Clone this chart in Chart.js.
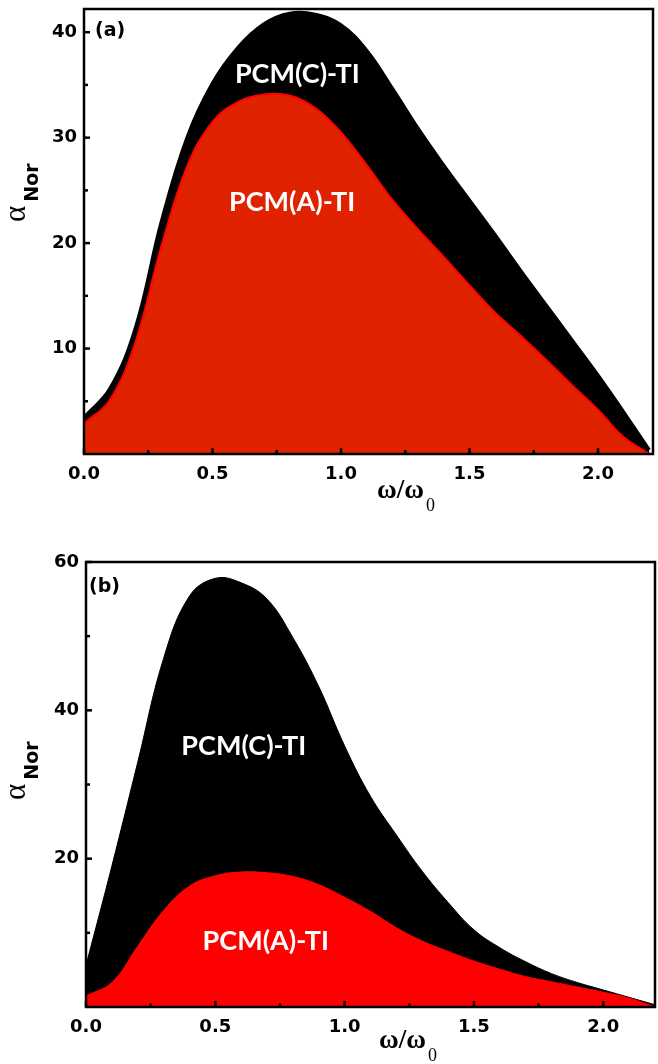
<!DOCTYPE html>
<html>
<head>
<meta charset="utf-8">
<script src="https://cdn.jsdelivr.net/npm/chart.js@4/dist/chart.umd.min.js"></script>
<style>
  body { margin: 0; background: #fff; }
  #wrapA { position: absolute; left: 0; top: 0; width: 658px; height: 520px; }
  #wrapB { position: absolute; left: 0; top: 520px; width: 658px; height: 544px; }
</style>
</head>
<body>
<div id="wrapA"><canvas id="chartA" width="658" height="520"></canvas></div>
<div id="wrapB"><canvas id="chartB" width="658" height="544"></canvas></div>
<script>
// --- omega / omega0 sample points (shared by all curves) ---
const omega = [0, 0.1, 0.2, 0.3, 0.4, 0.5, 0.6, 0.7, 0.8, 0.9, 1.0, 1.1,
               1.2, 1.3, 1.4, 1.5, 1.6, 1.7, 1.8, 1.9, 2.0, 2.1, 2.2];

// panel (a)
const alphaC_a = [3.5, 6.2, 12.0, 22.0, 30.0, 35.2, 38.6, 40.8, 41.8, 41.7, 40.7, 38.3,
                  34.7, 30.9, 27.4, 24.1, 20.8, 17.4, 14.1, 10.8, 7.5, 4.0, 0.4];
const alphaA_a = [2.9, 5.1, 10.6, 19.6, 27.2, 31.5, 33.4, 34.1, 34.0, 32.8, 30.5, 27.4,
                  24.1, 21.3, 18.7, 16.0, 13.4, 11.2, 8.9, 6.5, 4.2, 1.6, 0];

// panel (b)
const alphaC_b = [5.6, 19.0, 33.0, 47.0, 55.4, 57.8, 57.2, 55.0, 49.8, 43.2, 35.2, 28.4,
                  23.2, 18.3, 14.1, 10.4, 8.0, 6.1, 4.5, 3.3, 2.3, 1.3, 0.3];
const alphaA_b = [1.5, 3.3, 8.2, 13.0, 16.3, 17.7, 18.2, 18.1, 17.6, 16.5, 14.8, 12.9,
                  10.7, 8.9, 7.5, 6.2, 5.1, 4.1, 3.4, 2.7, 2.0, 1.2, 0];

// ticks
const xTicks = [0, 0.5, 1.0, 1.5, 2.0];
const xMinor = [0.25, 0.75, 1.25, 1.75];
const yTicks_a = [10, 20, 30, 40];
const yMinor_a = [5, 15, 25, 35];
const yTicks_b = [20, 40, 60];
const yMinor_b = [10, 30, 50];

function pts(ys) {
  return omega.map((x, i) => ({ x: x, y: ys[i] }));
}

// frame, inward ticks, titles and in-plot labels
const framePlugin = {
  id: 'frame',
  afterDraw(chart, args, o) {
    const ctx = chart.ctx;
    const a = chart.chartArea;
    const xs = chart.scales.x, ys = chart.scales.y;
    ctx.save();
    ctx.strokeStyle = '#000';
    ctx.lineWidth = 2.5;
    ctx.strokeRect(a.left, a.top, a.right - a.left, a.bottom - a.top);

    function tick(x1, y1, x2, y2) {
      ctx.beginPath(); ctx.moveTo(x1, y1); ctx.lineTo(x2, y2); ctx.stroke();
    }
    xTicks.forEach(v => { const p = xs.getPixelForValue(v); tick(p, a.bottom, p, a.bottom - 6); });
    xMinor.forEach(v => { const p = xs.getPixelForValue(v); tick(p, a.bottom, p, a.bottom - 4); });
    o.yMajor.forEach(v => { const p = ys.getPixelForValue(v); tick(a.left, p, a.left + 6, p); });
    o.yMinor.forEach(v => { const p = ys.getPixelForValue(v); tick(a.left, p, a.left + 4, p); });

    // labels inside the plot
    ctx.fillStyle = '#fff';
    ctx.font = 'bold 27px Lato';
    ctx.textAlign = 'center';
    ctx.textBaseline = 'middle';
    o.notes.forEach(n => {
      ctx.fillText(n.text, xs.getPixelForValue(n.x), ys.getPixelForValue(n.y));
    });

    // panel letter
    ctx.fillStyle = '#000';
    ctx.textAlign = 'left';
    ctx.font = 'bold 19px "DejaVu Sans"';
    ctx.fillText(o.panel, o.panelX, o.panelY);

    // x title  omega/omega_0
    ctx.textBaseline = 'alphabetic';
    ctx.font = 'bold 27px "Liberation Serif"';
    ctx.fillText('\u03c9/\u03c9', o.xtX, o.xtY);
    const w = ctx.measureText('\u03c9/\u03c9').width;
    ctx.font = '18px "Liberation Serif"';
    ctx.fillText('0', o.xtX + w + 2, o.xtY + 13);

    // y title alpha_Nor
    ctx.translate(o.ytX, o.ytY);
    ctx.rotate(-Math.PI / 2);
    ctx.font = '31px "Liberation Serif"';
    ctx.fillText('\u03b1', 0, 0);
    const wa = ctx.measureText('\u03b1').width;
    ctx.font = 'bold 19px "DejaVu Sans"';
    ctx.fillText('Nor', wa + 4, 13);
    ctx.restore();
  }
};

function makeChart(id, cfg) {
  const tickFont = { family: 'DejaVu Sans', weight: 'bold', size: 18 };
  return new Chart(document.getElementById(id), {
    type: 'line',
    data: {
      datasets: [
        {
          label: 'PCM(A)-TI',
          data: pts(cfg.aVals),
          borderColor: cfg.aBorder,
          borderWidth: cfg.aBorderWidth,
          backgroundColor: cfg.aFill,
          fill: 'origin',
          pointRadius: 0,
          tension: 0.4
        },
        {
          label: 'PCM(C)-TI',
          data: pts(cfg.cVals),
          borderColor: '#000',
          borderWidth: cfg.cBorderWidth,
          backgroundColor: '#000',
          fill: 'origin',
          pointRadius: 0,
          tension: 0.4
        }
      ]
    },
    options: {
      responsive: false,
      animation: false,
      layout: { padding: { top: cfg.padTop, right: cfg.padRight, left: 0, bottom: 0 } },
      plugins: {
        legend: { display: false },
        tooltip: { enabled: false },
        frame: cfg.frame
      },
      scales: {
        x: {
          type: 'linear',
          min: 0,
          max: cfg.xMax,
          grid: { display: false, drawTicks: false },
          border: { display: false },
          ticks: {
            font: tickFont, color: '#000', padding: cfg.xPad,
            callback: v => v.toFixed(1)
          },
          afterBuildTicks: s => { s.ticks = xTicks.map(v => ({ value: v })); },
          afterFit: s => { s.height = cfg.xHeight; s.paddingLeft = 0; s.paddingRight = 0; }
        },
        y: {
          min: 0,
          max: cfg.yMax,
          grid: { display: false, drawTicks: false },
          border: { display: false },
          ticks: { font: tickFont, color: '#000', padding: 7 },
          afterBuildTicks: s => { s.ticks = cfg.frame.yMajor.map(v => ({ value: v })); },
          afterFit: s => { s.width = cfg.yWidth; s.paddingTop = 0; s.paddingBottom = 0; }
        }
      }
    },
    plugins: [framePlugin]
  });
}

makeChart('chartA', {
  aVals: alphaA_a, cVals: alphaC_a,
  aBorder: '#ff0000', aBorderWidth: 2, aFill: '#e02200', cBorderWidth: 3,
  padTop: 9, padRight: 5, xHeight: 66, yWidth: 84, xMax: 2.214, yMax: 42.2, xPad: 10,
  frame: {
    yMajor: yTicks_a, yMinor: yMinor_a,
    notes: [{ text: 'PCM(C)-TI', x: 0.83, y: 36.0 }, { text: 'PCM(A)-TI', x: 0.81, y: 23.9 }],
    panel: '(a)', panelX: 95, panelY: 31,
    xtX: 377, xtY: 498,
    ytX: 25, ytY: 222
  }
});

makeChart('chartB', {
  aVals: alphaA_b, cVals: alphaC_b,
  aBorder: '#ff0000', aBorderWidth: 1, aFill: '#ff0000', cBorderWidth: 1,
  padTop: 42, padRight: 3, xHeight: 57, yWidth: 86, xMax: 2.2, yMax: 60, xPad: 10,
  frame: {
    yMajor: yTicks_b, yMinor: yMinor_b,
    notes: [{ text: 'PCM(C)-TI', x: 0.61, y: 35.2 }, { text: 'PCM(A)-TI', x: 0.695, y: 8.9 }],
    panel: '(b)', panelX: 89, panelY: 67,
    xtX: 379, xtY: 528,
    ytX: 25, ytY: 280
  }
});
</script>
</body>
</html>
